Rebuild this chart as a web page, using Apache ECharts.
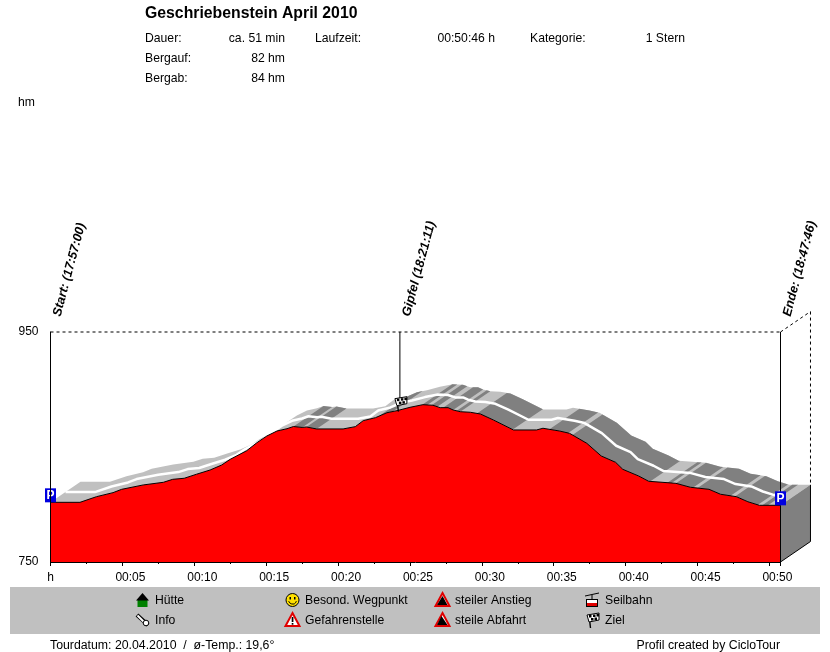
<!DOCTYPE html>
<html><head><meta charset="utf-8">
<style>html,body{margin:0;padding:0;background:#fff}#c{width:830px;height:652px}</style>
<script src="https://cdn.jsdelivr.net/npm/echarts@6/dist/echarts.min.js"></script>
</head><body><div id="c"></div>
<script>
// ---- data ----
const timeMin = [0,2.05,3.2,4.35,4.95,6.45,7.85,8.5,9.3,10.15,11.1,11.9,12.5,13.65,14.35,15.05,15.75,16.45,16.9,17.5,17.8,18.5,20.35,21.2,21.75,22.6,23.4,24.1,25,25.9,26.6,27.1,27.65,28,28.5,29.2,29.9,30.8,32.2,33.8,34.25,35.4,36.1,37.3,38.3,39.3,39.8,40.9,41.6,43.5,44.5,45.8,46.6,47.7,48.5,49.3,50.77];
const elevation = [801.9,801.9,806.8,810.3,813.2,817,819.3,821.9,822.8,826.3,830,834.3,839.3,846.8,853.7,859.6,863.9,865.9,867.8,867.0,867.4,865.7,865.7,867.7,872.9,875.5,879.8,881.6,884.5,886.8,886.3,884.2,884.2,882.2,880.7,880.2,878.7,873.5,864.8,864.8,866.3,863.9,861.9,853.2,842.2,836.7,830.6,824.8,820.2,818.4,815,813.2,808.9,806.8,802.4,799.3,799.3];
const darkSpans = [[16.9,17.5],[17.8,18.5],[22.8,23.8],[25.85,26.2],[26.5,26.9],[27.3,28],[28.25,28.5],[29.65,32.15],[34.7,36],[36.3,41.7],[42.9,43.2],[43.5,44.7],[45,47.3],[47.6,49.2],[49.5,49.9]];
const waypoints = [[0,'Start: (17:57:00)'],[24.3,'Gipfel (18:21:11)'],[50.77,'Ende: (18:47:46)']];
const parkings = [[0,801.9],[50.77,799.3]];
const flagPoint = [24.3,881.6];
const gipfelLineEnd = 890;
const yMin = 750, yMax = 950, tEnd = 50.77;
const depthT = 2.085, depthE = 17.8;       // 3-D depth of the ribbon, in axis units
const titleText = 'Geschriebenstein April 2010';
const infoRows = [
  ['Dauer:','ca. 51 min','Laufzeit:','00:50:46 h','Kategorie:','1 Stern'],
  ['Bergauf:','82 hm'],
  ['Bergab:','84 hm']
];
const legendItems = [['Hütte','Info'],['Besond. Wegpunkt','Gefahrenstelle'],['steiler Anstieg','steile Abfahrt'],['Seilbahn','Ziel']];
const footLeft = 'Tourdatum: 20.04.2010  /  ø-Temp.: 19,6°';
const footRight = 'Profil created by CicloTour';

// ---- helpers ----
const FONT = '"Liberation Sans", Arial, sans-serif';
const LIGHT = '#c0c0c0', DARK = '#808080';
function elevAt(t){
  for(let i=1;i<timeMin.length;i++){
    if(t<=timeMin[i]){const f=(t-timeMin[i-1])/(timeMin[i]-timeMin[i-1]);return elevation[i-1]+f*(elevation[i]-elevation[i-1]);}
  }
  return elevation[elevation.length-1];
}
function ribbonPts(a,b){
  const ts=[a];timeMin.forEach(t=>{if(t>a&&t<b)ts.push(t)});ts.push(b);
  return ts.map(t=>[t,elevAt(t)]);
}
function poly(points,fill,extra){return Object.assign({type:'polygon',shape:{points},style:{fill}},extra||{});}
function ln(x1,y1,x2,y2,stroke,w,dash){return {type:'line',shape:{x1,y1,x2,y2},style:{stroke,lineWidth:w||1,lineDash:dash||null}};}
function rc(x,y,w,h,fill){return {type:'rect',shape:{x,y,width:w,height:h},style:{fill}};}

function flagIcon(x,y){ // x,y = top-left of the 13x15 icon
  const els=[ln(x+3,y+2,x+4.5,y+15,'#000',1.4),
    poly([[x+1,y+2],[x+13,y],[x+13,y+7],[x+3,y+9]],'#fff',{style:{fill:'#fff',stroke:'#000',lineWidth:1}})];
  [[3,2],[7,1.5],[10.5,1],[5,5],[8.5,4.5]].forEach(p=>els.push(rc(x+p[0],y+p[1],2.5,2.5,'#000')));
  return els;
}

// ---- series ----
const option = {
  animation:false,
  backgroundColor:'#fff',
  grid:{left:50.5,top:332,width:730,height:230,containLabel:false},
  xAxis:{type:'value',min:0,max:tEnd,interval:5,z:10,
    axisLine:{onZero:false,lineStyle:{color:'#000',width:1}},
    axisTick:{length:4,lineStyle:{color:'#000'}},
    minorTick:{show:true,splitNumber:2,length:2,lineStyle:{color:'#000'}},
    splitLine:{show:false},minorSplitLine:{show:false},
    axisLabel:{color:'#000',fontFamily:FONT,fontSize:12,margin:10,showMaxLabel:false,showMinLabel:true,
      hideOverlap:false,
      rich:{t:{padding:[0,0,0,16],fontFamily:FONT,fontSize:12,color:'#000'}},
      formatter:v=>v===0?'h':(v%5===0?'{t|00:'+String(v).padStart(2,'0')+'}':'')}},
  yAxis:{type:'value',min:yMin,max:yMax,interval:200,z:10,
    axisLine:{show:true,lineStyle:{color:'#000',width:1}},
    axisTick:{show:false},splitLine:{show:false},
    axisLabel:{color:'#000',fontFamily:FONT,fontSize:12,margin:12,padding:[2,0,0,0]}},
  series:[
    {type:'custom',z:1,silent:true,clip:false,data:[[0,tEnd]],encode:{x:[0,1]},
     renderItem(p,api){
       const pts=ribbonPts(0,tEnd);
       const front=pts.map(q=>api.coord(q));
       const back=pts.map(q=>api.coord([q[0]+depthT,q[1]+depthE])).reverse();
       return poly(front.concat(back),LIGHT);
     }},
    {type:'custom',z:1.5,silent:true,clip:false,data:darkSpans,encode:{x:[0,1]},
     renderItem(p,api){
       const pts=ribbonPts(api.value(0),api.value(1));
       const front=pts.map(q=>api.coord(q));
       const back=pts.map(q=>api.coord([q[0]+depthT,q[1]+depthE])).reverse();
       return poly(front.concat(back),DARK);
     }},
    {type:'line',z:2,silent:true,symbol:'none',clip:false,
     data:timeMin.map((t,i)=>[t+depthT/2,elevation[i]+depthE/2]),
     lineStyle:{color:'#fff',width:2.5}},
    {type:'line',z:3,silent:true,symbol:'none',
     data:timeMin.map((t,i)=>[t,elevation[i]]),
     lineStyle:{color:'#000',width:1},
     areaStyle:{color:'#ff0000',opacity:1,origin:'start'}},
    // side wall and dashed frame
    {type:'custom',z:4,silent:true,clip:false,data:[[tEnd,yMin]],encode:{x:0,y:1},
     renderItem(p,api){
       const c=q=>api.coord(q);
       const eEnd=elevAt(tEnd);
       const fb=c([tEnd,yMin]),bb=c([tEnd+depthT,yMin+depthE]),ft=c([tEnd,eEnd]),bt=c([tEnd+depthT,eEnd+depthE]);
       const top=c([tEnd,yMax]),backTop=c([tEnd+depthT,yMax+depthE]),tl=c([0,yMax]);
       const D=[3,3];
       return {type:'group',children:[
         poly([fb,bb,bt,ft],DARK),
         ln(fb[0],fb[1],bb[0],bb[1],'#000',1),
         ln(bb[0],bb[1],bt[0],bt[1],'#000',1),
         ln(ft[0],ft[1],top[0],top[1],'#000',1),
         ln(fb[0],fb[1],ft[0],ft[1],'#000',1),
         ln(tl[0],tl[1],top[0],top[1],'#000',1,D),
         ln(top[0],top[1],backTop[0],backTop[1],'#000',1,D),
         ln(backTop[0],backTop[1],bt[0],bt[1],'#000',1,D)
       ]};
     }},
    // Gipfel line and flag
    {type:'custom',z:5,silent:true,clip:false,data:[flagPoint],encode:{x:0,y:1},
     renderItem(p,api){
       const a=api.coord([flagPoint[0],yMax]),b=api.coord([flagPoint[0],gipfelLineEnd]);
       const f=api.coord([flagPoint[0],flagPoint[1]]);
       return {type:'group',children:[ln(a[0],a[1],b[0],b[1],'#000',1)].concat(flagIcon(f[0]-6,f[1]-14))};
     }},
    // rotated waypoint labels
    {type:'custom',z:6,silent:true,clip:false,data:waypoints.map(w=>[w[0],yMax]),encode:{x:0,y:1},
     renderItem(p,api){
       const c=api.coord([api.value(0),yMax]);
       return {type:'text',x:c[0]+6.5,y:c[1]-16,rotation:75*Math.PI/180,
         style:{text:waypoints[p.dataIndex][1],x:0,y:0,align:'left',verticalAlign:'middle',fill:'#000',
                font:'italic bold 12.7px '+FONT}};
     }},
    // parking markers
    {type:'custom',z:7,silent:true,clip:false,data:parkings,encode:{x:0,y:1},
     renderItem(p,api){
       const c=api.coord([api.value(0),api.value(1)]);
       return {type:'group',children:[
         rc(c[0]-5.5,c[1]-14,11,14,'#0000e0'),
         {type:'text',style:{text:'P',x:c[0],y:c[1]-6.5,align:'center',verticalAlign:'middle',fill:'#fff',font:'bold 12px '+FONT}}
       ]};
     }}
  ],
  graphic:{elements:buildGraphics()}
};

function txt(x,y,text,align,font){
  return {type:'text',x,y,z:20,silent:true,style:{text,align:align||'left',verticalAlign:'middle',fill:'#000',font:font||('12.2px '+FONT)}};
}
function buildGraphics(){
  const g=[];
  g.push({type:'rect',x:10,y:587,z:1,silent:true,shape:{width:810,height:47},style:{fill:'#c0c0c0'}});
  g.push(txt(145,14,titleText,'left','bold 15.8px '+FONT));
  const rowY=[38.5,58.5,78.5];
  const xs=[[145,'left'],[285,'right'],[315,'left'],[495,'right'],[530,'left'],[685,'right']];
  infoRows.forEach((r,i)=>r.forEach((t,j)=>g.push(txt(xs[j][0],rowY[i],t,xs[j][1]))));
  g.push(txt(18,102.5,'hm'));
  const lx=[155,305,455,605], ly=[600.5,620.5];
  const legendFont='12.2px '+FONT;
  legendItems.forEach((col,i)=>col.forEach((t,j)=>g.push(txt(lx[i],ly[j],t,'left',legendFont))));
  g.push(txt(50,646,footLeft,'left','12.3px '+FONT));
  g.push(txt(780,646,footRight,'right','12.3px '+FONT));
  const icons=[];
  // hut
  icons.push(rc(137.5,600,10,7,'#008000'),poly([[142.5,593],[149,600.5],[136,600.5]],'#000'));
  // info pin
  icons.push(ln(137,615,148,625,'#000',4),ln(137.5,615.5,147,625,'#fff',2),
    {type:'circle',shape:{cx:146,cy:623,r:2.8},style:{fill:'#fff',stroke:'#000',lineWidth:1}});
  // smiley
  icons.push({type:'circle',shape:{cx:292.5,cy:600,r:6.5},style:{fill:'#ffe000',stroke:'#000',lineWidth:1}},
    rc(289.5,597,1.5,2.5,'#000'),rc(294,597,1.5,2.5,'#000'),
    {type:'arc',shape:{cx:292.5,cy:600,r:4,startAngle:0.3,endAngle:2.85},style:{stroke:'#000',fill:null,lineWidth:1}});
  // danger triangle
  icons.push(poly([[292.5,613],[299.5,626],[285.5,626]],'#fff',{style:{fill:'#fff',stroke:'#e00000',lineWidth:2}}),
    rc(291.7,617,1.7,5,'#000'),rc(291.7,623,1.7,1.7,'#000'));
  // steep up / steep down
  icons.push(poly([[442.5,593],[449.5,606],[435.5,606]],'#fff',{style:{fill:'#fff',stroke:'#e00000',lineWidth:2}}),
    poly([[442.5,596],[447.5,605],[437,605]],'#000'));
  icons.push(poly([[442.5,613],[449.5,626],[435.5,626]],'#fff',{style:{fill:'#fff',stroke:'#e00000',lineWidth:2}}),
    poly([[441.5,616],[447.5,625],[437,625]],'#000'));
  // cable car
  icons.push(ln(585,596,599,593,'#000',1),ln(592,595,592,599,'#000',1),
    rc(586,599,12,8,'#000'),rc(587,600,10,3,'#fff'),rc(587,603,10,3,'#e00000'));
  // finish flag
  icons.push(...flagIcon(586,613));
  icons.forEach(e=>{e.z=20;e.silent=true;g.push(e);});
  return g;
}

const chart = echarts.init(document.getElementById('c'),null,{renderer:'canvas',width:830,height:652});
chart.setOption(option);
</script></body></html>
